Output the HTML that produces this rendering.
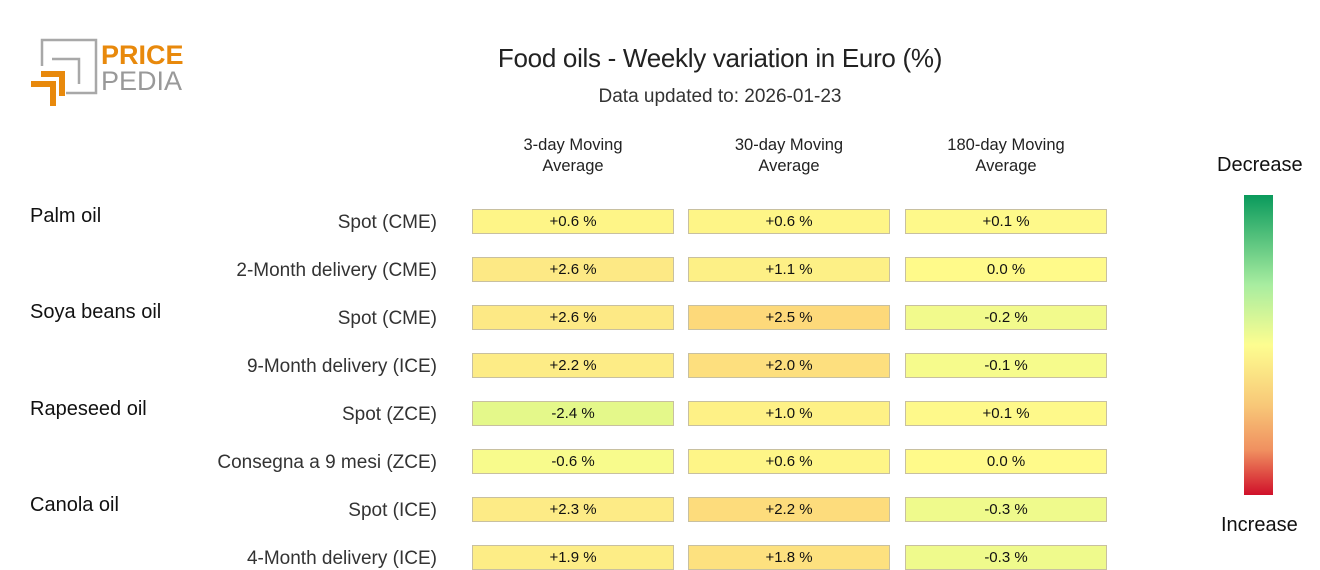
<!DOCTYPE html>
<html><head><meta charset="utf-8"><style>
body{margin:0;width:1320px;height:570px;background:#fff;font-family:"Liberation Sans",sans-serif;position:relative;overflow:hidden;color:#111}
.a{position:absolute;white-space:nowrap}
.c{position:absolute;width:200px;height:23px;border:1px solid #c8c0a0;text-align:center;font-size:15px;line-height:23px;box-sizing:content-box;margin-top:-12px}
.lab{position:absolute;right:883px;font-size:19px;color:#333;transform:translateY(-50%)}
.grp{position:absolute;left:30px;font-size:20px;color:#111}
.h{position:absolute;width:202px;text-align:center;font-size:16.5px;line-height:21px;top:135px;color:#222}
</style></head><body>
<svg class="a" style="left:28px;top:36px" width="160" height="75">
<path d="M14 30V4H68V57H38" fill="none" stroke="#a8a8a8" stroke-width="2.5"/>
<path d="M24 23H51V48" fill="none" stroke="#a8a8a8" stroke-width="2.5"/>
<path d="M13 38H34V60" fill="none" stroke="#e8890c" stroke-width="6"/>
<path d="M3 48H25V70" fill="none" stroke="#e8890c" stroke-width="6"/>
<text x="73" y="28" font-family="Liberation Sans" font-weight="bold" font-size="27" fill="#e8890c">PRICE</text>
<text x="73" y="54" font-family="Liberation Sans" font-size="27" fill="#999">PEDIA</text>
</svg>
<div class="a" style="left:0;width:1440px;text-align:center;top:43px;font-size:26px;letter-spacing:-0.3px;color:#222">Food oils - Weekly variation in Euro (%)</div>
<div class="a" style="left:0;width:1440px;text-align:center;top:86px;font-size:19px;color:#333">Data updated to: 2026-01-23</div>
<div class="h" style="left:472px">3-day Moving<br>Average</div>
<div class="h" style="left:688px">30-day Moving<br>Average</div>
<div class="h" style="left:905px">180-day Moving<br>Average</div>
<div class="a" style="left:1217px;top:154px;font-size:20px">Decrease</div>
<div class="a" style="left:1221px;top:514px;font-size:20px">Increase</div>
<div class="a" style="left:1244px;top:195px;width:29px;height:300px;background:linear-gradient(#0a9a5c 0%,#a8eda0 30%,#fdfd90 50%,#f8c878 70%,#f09060 85%,#d0102a 100%)"></div>
<div class="grp" style="top:205px">Palm oil</div>
<div class="grp" style="top:301px">Soya beans oil</div>
<div class="grp" style="top:398px">Rapeseed oil</div>
<div class="grp" style="top:494px">Canola oil</div>
<div class="lab" style="top:223px">Spot (CME)</div>
<div class="lab" style="top:271px">2-Month delivery (CME)</div>
<div class="lab" style="top:319px">Spot (CME)</div>
<div class="lab" style="top:367px">9-Month delivery (ICE)</div>
<div class="lab" style="top:415px">Spot (ZCE)</div>
<div class="lab" style="top:463px">Consegna a 9 mesi (ZCE)</div>
<div class="lab" style="top:511px">Spot (ICE)</div>
<div class="lab" style="top:559px">4-Month delivery (ICE)</div>

<div class="c" style="left:472px;top:221px;background:#fef587">+0.6 %</div>
<div class="c" style="left:688px;top:221px;background:#fef587">+0.6 %</div>
<div class="c" style="left:905px;top:221px;background:#fef98a">+0.1 %</div>
<div class="c" style="left:472px;top:269px;background:#fde985">+2.6 %</div>
<div class="c" style="left:688px;top:269px;background:#fdf086">+1.1 %</div>
<div class="c" style="left:905px;top:269px;background:#fffa8a">0.0 %</div>
<div class="c" style="left:472px;top:317px;background:#fde985">+2.6 %</div>
<div class="c" style="left:688px;top:317px;background:#fdd97a">+2.5 %</div>
<div class="c" style="left:905px;top:317px;background:#f2fa8c">-0.2 %</div>
<div class="c" style="left:472px;top:365px;background:#fdec86">+2.2 %</div>
<div class="c" style="left:688px;top:365px;background:#fddf7e">+2.0 %</div>
<div class="c" style="left:905px;top:365px;background:#f6fb8c">-0.1 %</div>
<div class="c" style="left:472px;top:413px;background:#e4f88a">-2.4 %</div>
<div class="c" style="left:688px;top:413px;background:#fef186">+1.0 %</div>
<div class="c" style="left:905px;top:413px;background:#fef98a">+0.1 %</div>
<div class="c" style="left:472px;top:461px;background:#f8fb8c">-0.6 %</div>
<div class="c" style="left:688px;top:461px;background:#fef587">+0.6 %</div>
<div class="c" style="left:905px;top:461px;background:#fffa8a">0.0 %</div>
<div class="c" style="left:472px;top:509px;background:#fdeb86">+2.3 %</div>
<div class="c" style="left:688px;top:509px;background:#fddc7c">+2.2 %</div>
<div class="c" style="left:905px;top:509px;background:#effa8c">-0.3 %</div>
<div class="c" style="left:472px;top:557px;background:#fded86">+1.9 %</div>
<div class="c" style="left:688px;top:557px;background:#fde17f">+1.8 %</div>
<div class="c" style="left:905px;top:557px;background:#effa8c">-0.3 %</div>
</body></html>
